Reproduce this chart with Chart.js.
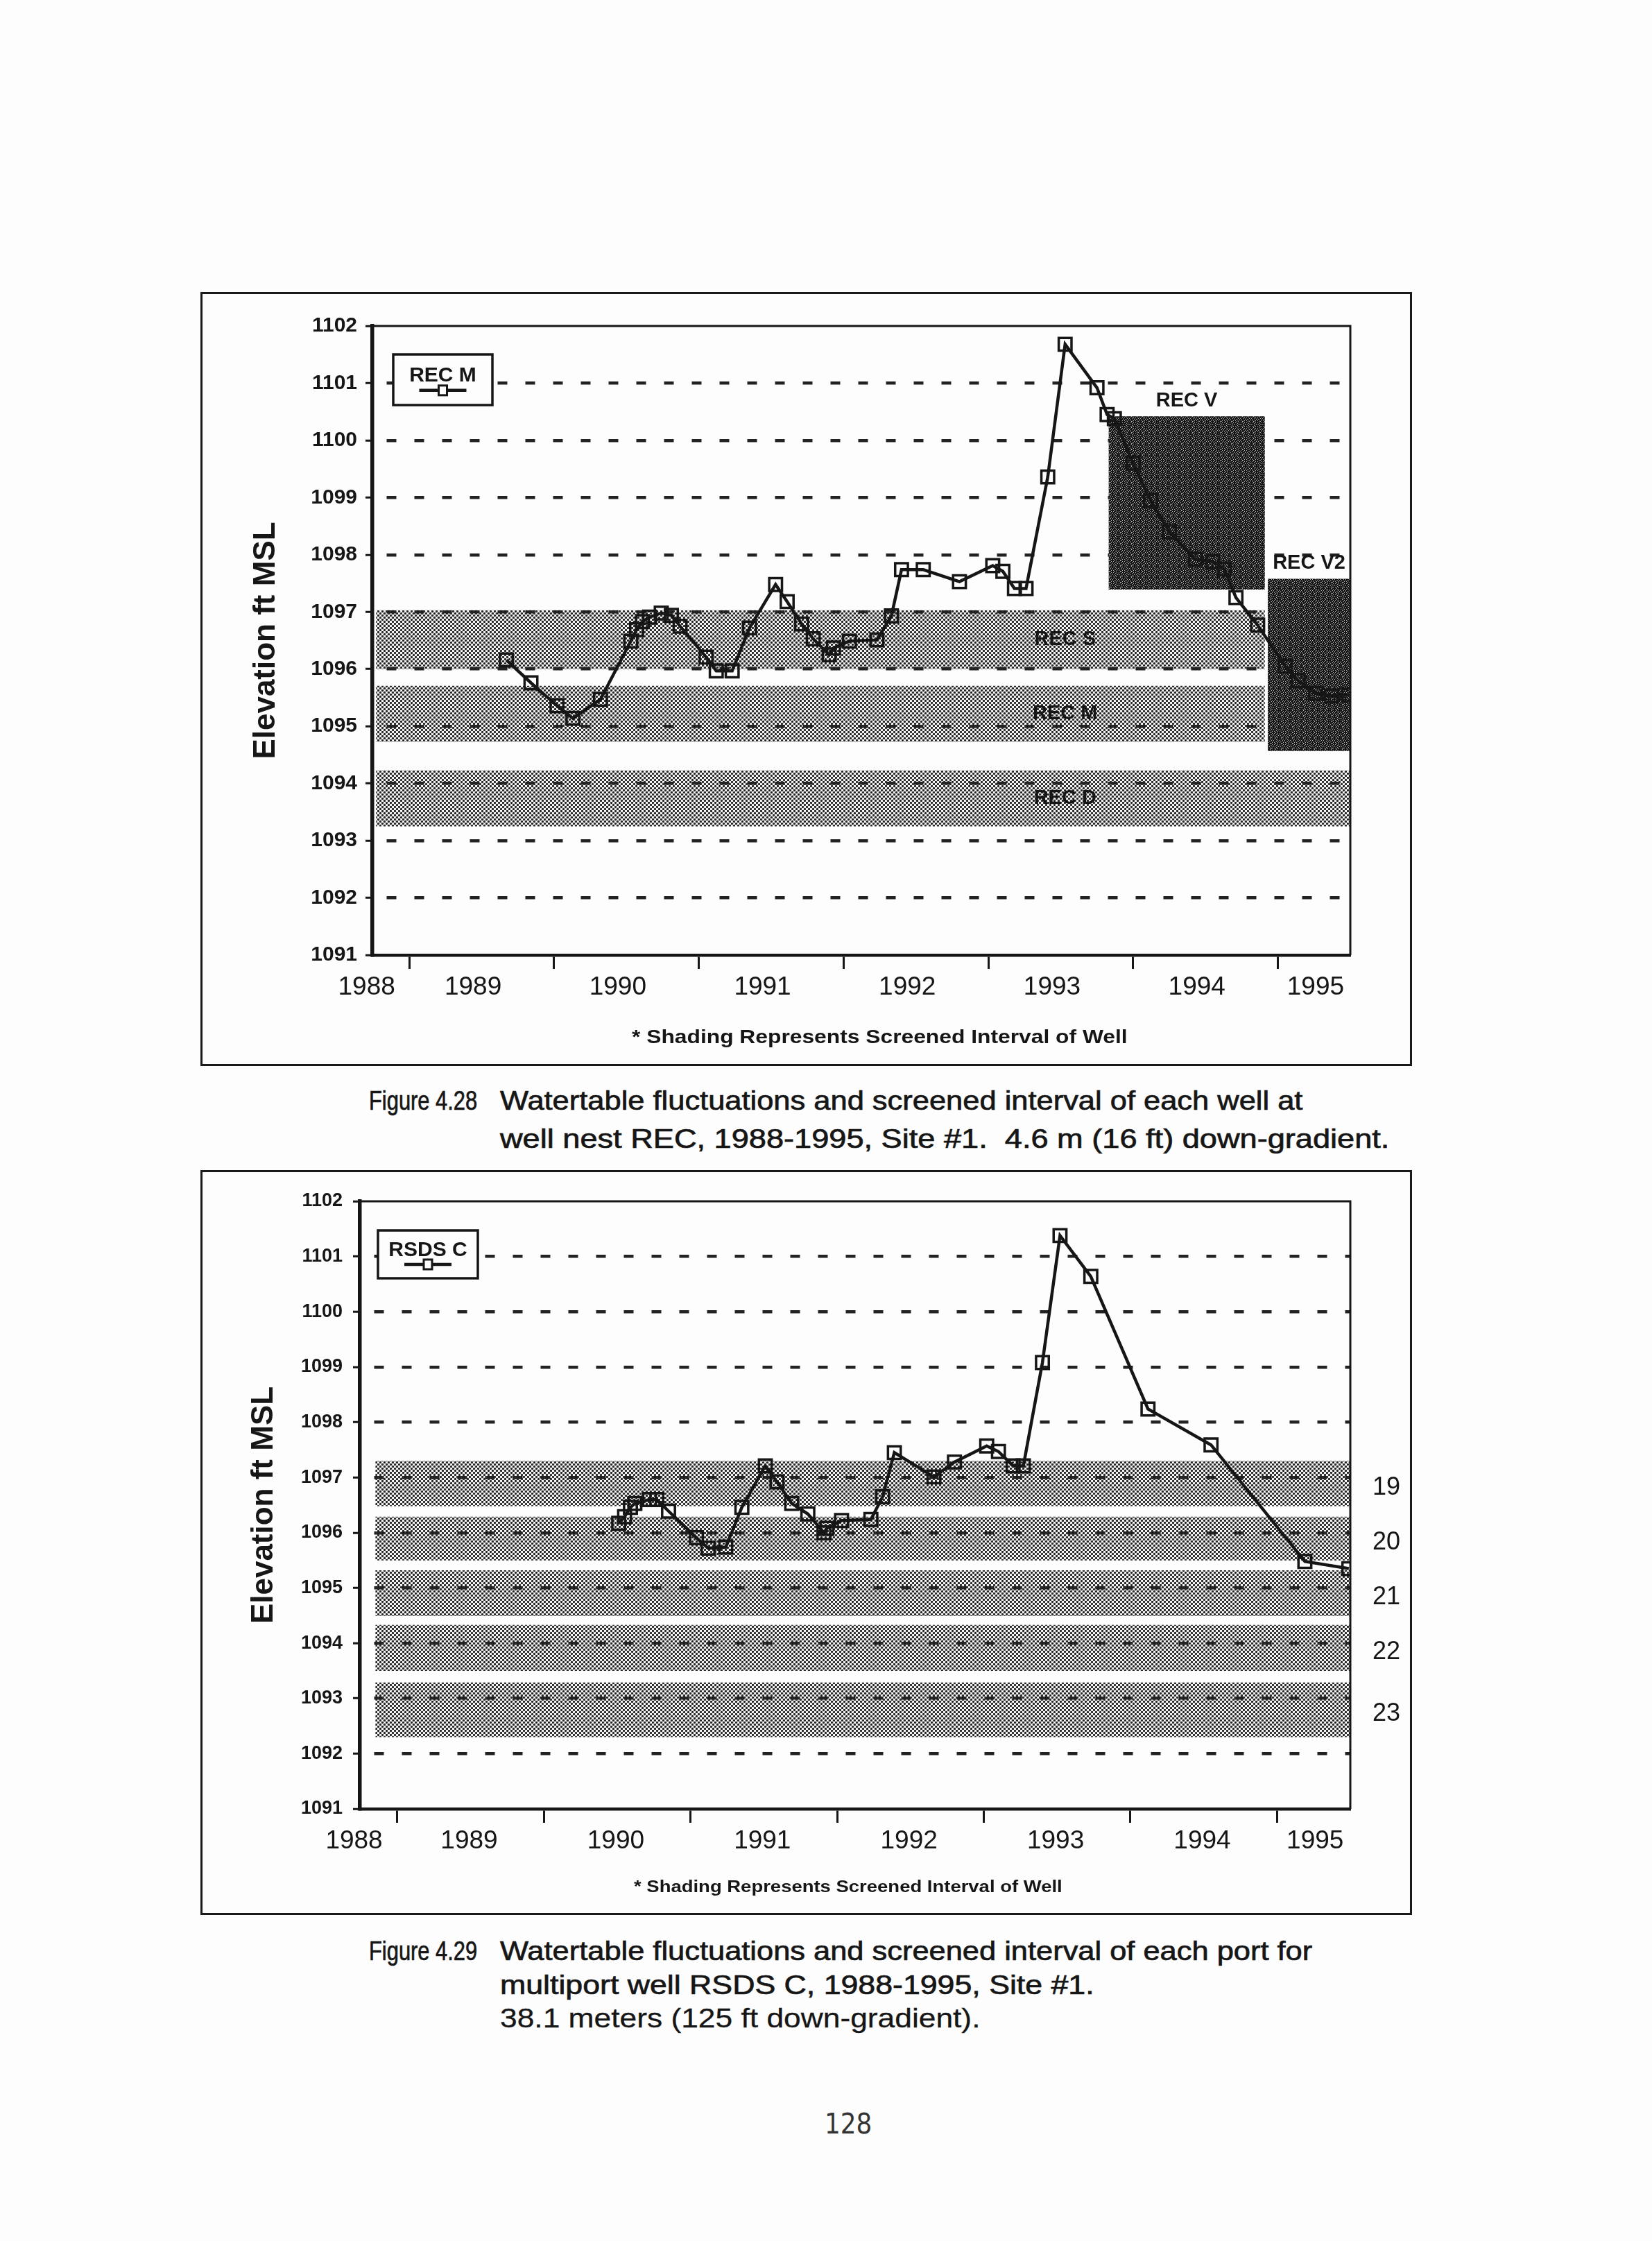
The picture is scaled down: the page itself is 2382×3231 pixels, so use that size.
<!DOCTYPE html>
<html>
<head>
<meta charset="utf-8">
<script src="https://cdn.jsdelivr.net/npm/chart.js@4.4.1/dist/chart.umd.min.js"></script>
<style>
  html, body { margin: 0; padding: 0; background: #fdfdfd; }
  body { position: relative; width: 2382px; height: 3231px; overflow: hidden;
         font-family: "Liberation Sans", Arial, sans-serif; color: #161616; }
  .frame { position: absolute; border: 3px solid #1a1a1a; box-sizing: border-box; }
  canvas { position: absolute; }
  .t { position: absolute; white-space: nowrap; line-height: 1; transform-origin: 0 50%;
       transform: translateY(-50%); }
  .note { font-weight: bold; }
  .cap { font-size: 38px; -webkit-text-stroke: 0.7px #161616; }
</style>
</head>
<body>

<div class="frame" style="left:289px;top:421px;width:1747px;height:1116px"></div>
<canvas id="recChart" width="1741" height="1110" style="left:292px;top:424px"></canvas>
<div class="t note" data-w="715" style="left:911px;top:1495px;font-size:28px">* Shading Represents Screened Interval of Well</div>

<div class="t cap" data-w="156" style="left:532px;top:1587px">Figure 4.28</div>
<div class="t cap" data-w="1158" style="left:721px;top:1587px">Watertable fluctuations and screened interval of each well at</div>
<div class="t cap" data-w="1282" style="left:721px;top:1642px">well nest REC, 1988-1995, Site #1.&nbsp; 4.6 m (16 ft) down-gradient.</div>

<div class="frame" style="left:289px;top:1687px;width:1747px;height:1074px"></div>
<canvas id="rsdsChart" width="1741" height="1068" style="left:292px;top:1690px"></canvas>
<div class="t note" data-w="618" style="left:914px;top:2720px;font-size:24px">* Shading Represents Screened Interval of Well</div>

<div class="t cap" data-w="156" style="left:532px;top:2813px">Figure 4.29</div>
<div class="t cap" data-w="1171" style="left:721px;top:2813px">Watertable fluctuations and screened interval of each port for</div>
<div class="t cap" data-w="857" style="left:721px;top:2862px">multiport well RSDS C, 1988-1995, Site #1.</div>
<div class="t cap" data-w="693" style="left:721px;top:2910px;-webkit-text-stroke:0.3px #161616">38.1 meters (125 ft down-gradient).</div>

<div class="t" data-w="68" style="left:1189px;top:3062px;font-size:40px;font-family:'DejaVu Sans',sans-serif;color:#333">128</div>

<script>
// ---- axis ranges / ticks ----
const xMin = 1988.745;
const xMax = 1995.5;
const yMin = 1091;
const yMax = 1102;
const yearTicks = [1989, 1990, 1991, 1992, 1993, 1994, 1995];
const yearLabels = ['1988', '1989', '1990', '1991', '1992', '1993', '1994', '1995'];

// ---- Figure 4.28 : REC M water table ----
const recmYears = [1989.67, 1989.84, 1990.02, 1990.13, 1990.32, 1990.53, 1990.57, 1990.61, 1990.66, 1990.74,
  1990.81, 1990.87, 1991.05, 1991.12, 1991.23, 1991.35, 1991.53, 1991.61, 1991.71, 1991.79,
  1991.90, 1991.93, 1992.04, 1992.23, 1992.33, 1992.40, 1992.55, 1992.80, 1993.03, 1993.10,
  1993.18, 1993.26, 1993.41, 1993.53, 1993.75, 1993.82, 1993.87, 1994.00, 1994.12, 1994.25,
  1994.43, 1994.55, 1994.63, 1994.71, 1994.86, 1995.05, 1995.14, 1995.26, 1995.37, 1995.49];
const recmElev = [1096.16, 1095.76, 1095.36, 1095.14, 1095.47, 1096.49, 1096.69, 1096.83, 1096.91, 1096.98,
  1096.94, 1096.75, 1096.21, 1095.97, 1095.97, 1096.72, 1097.48, 1097.18, 1096.79, 1096.53,
  1096.25, 1096.37, 1096.49, 1096.51, 1096.93, 1097.74, 1097.74, 1097.53, 1097.81, 1097.71,
  1097.41, 1097.41, 1099.36, 1101.68, 1100.92, 1100.45, 1100.38, 1099.60, 1098.95, 1098.40,
  1097.92, 1097.88, 1097.75, 1097.25, 1096.77, 1096.05, 1095.80, 1095.58, 1095.53, 1095.55];

// screened intervals of the REC wells
const recNames  = ['REC S', 'REC M', 'REC D', 'REC V', 'REC V2'];
const recFrom   = [1988.77, 1988.77, 1988.77, 1993.83, 1994.93];
const recTo     = [1994.91, 1994.91, 1995.5, 1994.91, 1995.5];
const recTop    = [1097.03, 1095.71, 1094.23, 1100.42, 1097.58];
const recBottom = [1096.00, 1094.73, 1093.25, 1097.39, 1094.57];
const recShade  = ['screen', 'screen', 'screen', 'dark', 'dark'];

// ---- Figure 4.29 : RSDS C water table ----
const rsdsYears = [1990.51, 1990.55, 1990.59, 1990.62, 1990.72, 1990.77, 1990.85, 1991.04, 1991.12, 1991.24,
  1991.35, 1991.51, 1991.59, 1991.69, 1991.80, 1991.91, 1991.93, 1992.03, 1992.23, 1992.31,
  1992.39, 1992.66, 1992.80, 1993.02, 1993.10, 1993.20, 1993.27, 1993.40, 1993.52, 1993.73,
  1994.12, 1994.55, 1995.19, 1995.49];
const rsdsElev = [1096.17, 1096.29, 1096.46, 1096.53, 1096.60, 1096.60, 1096.39, 1095.91, 1095.72, 1095.74,
  1096.46, 1097.21, 1096.92, 1096.53, 1096.34, 1096.00, 1096.08, 1096.22, 1096.24, 1096.65,
  1097.45, 1097.01, 1097.28, 1097.57, 1097.47, 1097.21, 1097.21, 1099.08, 1101.38, 1100.64,
  1098.24, 1097.59, 1095.48, 1095.35];

// screened intervals of the RSDS C ports
const portNames  = ['19', '20', '21', '22', '23'];
const portFrom   = [1988.85, 1988.85, 1988.85, 1988.85, 1988.85];
const portTo     = [1995.5, 1995.5, 1995.5, 1995.5, 1995.5];
const portTop    = [1097.30, 1096.29, 1095.32, 1094.33, 1093.29];
const portBottom = [1096.48, 1095.50, 1094.49, 1093.50, 1092.30];
const portShade  = ['screen', 'screen', 'screen', 'screen', 'screen'];

const INK = '#161616';
const PAPER = '#fdfdfd';
const FONT = '"Liberation Sans", Arial, sans-serif';

// halftone dot screen used for the screened intervals
function screenPattern() {
  const c = document.createElement('canvas');
  c.width = 6; c.height = 6;
  const g = c.getContext('2d');
  g.fillStyle = '#262626';
  [[1.5, 1.5], [4.5, 4.5]].forEach(([px, py]) => {
    g.beginPath(); g.arc(px, py, 1.7, 0, Math.PI * 2); g.fill();
  });
  return g.createPattern(c, 'repeat');
}

// coarse dark texture used for REC V / REC V2
function darkPattern() {
  const tile = ['11101111', '10111101', '11110111', '01111011',
                '11011110', '11110111', '10111101', '11101011'];
  const c = document.createElement('canvas');
  c.width = 8; c.height = 8;
  const g = c.getContext('2d');
  tile.forEach((row, r) => [...row].forEach((v, k) => {
    g.fillStyle = v === '1' ? '#141414' : '#b4b4b4';
    g.fillRect(k, r, 1, 1);
  }));
  return g.createPattern(c, 'repeat');
}

const screenFill = screenPattern();
const darkFill = darkPattern();

function bandDatasets(from, to, top, bottom, shade) {
  const sets = [];
  top.forEach((t, i) => {
    sets.push({ data: [{x: from[i], y: t}, {x: to[i], y: t}], fill: '+1',
      backgroundColor: shade[i] === 'dark' ? darkFill : screenFill,
      borderColor: 'rgba(0,0,0,0)', borderWidth: 1, pointRadius: 0 });
    sets.push({ data: [{x: from[i], y: bottom[i]}, {x: to[i], y: bottom[i]}], fill: false,
      borderColor: 'rgba(0,0,0,0)', borderWidth: 1, pointRadius: 0 });
  });
  return sets;
}

function makeDecor(cfg) {
  return {
    id: 'decor',
    afterDatasetsDraw(chart) {
      const {ctx, chartArea: a, scales: {x, y}} = chart;
      ctx.save();
      // top and right edges of the plot frame
      ctx.strokeStyle = INK;
      ctx.lineWidth = 3;
      ctx.beginPath();
      ctx.moveTo(a.left, a.top); ctx.lineTo(a.right, a.top); ctx.lineTo(a.right, a.bottom);
      ctx.stroke();

      // interval labels
      ctx.fillStyle = INK;
      ctx.textAlign = 'center';
      cfg.names.forEach((name, i) => {
        const mid = (cfg.top[i] + cfg.bottom[i]) / 2;
        if (cfg.side) {
          ctx.font = `36px ${FONT}`;
          ctx.textBaseline = 'middle';
          ctx.fillText(name, a.right + 52, y.getPixelForValue(mid - 0.08));
        } else if (cfg.shade[i] === 'dark') {
          ctx.font = `bold 29px ${FONT}`;
          ctx.textBaseline = 'bottom';
          ctx.fillText(name, x.getPixelForValue((cfg.from[i] + cfg.to[i]) / 2), y.getPixelForValue(cfg.top[i]) - 8);
        } else {
          ctx.font = `bold 29px ${FONT}`;
          ctx.textBaseline = 'middle';
          ctx.fillText(name, x.getPixelForValue(cfg.labelX), y.getPixelForValue(mid));
        }
      });

      // legend box
      const [dx, dy, w, h] = cfg.legendBox;
      const lx = a.left + dx, ly = a.top + dy, cx = lx + w / 2;
      ctx.fillStyle = PAPER;
      ctx.fillRect(lx, ly, w, h);
      ctx.lineWidth = 3.5;
      ctx.strokeRect(lx, ly, w, h);
      ctx.fillStyle = INK;
      ctx.font = `bold 30px ${FONT}`;
      ctx.textBaseline = 'middle';
      ctx.fillText(cfg.legendText, cx, ly + h * 0.42);
      const sy = ly + h * 0.71;
      ctx.lineWidth = 4.5;
      ctx.beginPath(); ctx.moveTo(cx - 34, sy); ctx.lineTo(cx + 34, sy); ctx.stroke();
      ctx.lineWidth = 3;
      ctx.fillStyle = PAPER;
      ctx.fillRect(cx - 6, sy - 7, 12, 14);
      ctx.strokeRect(cx - 6, sy - 7, 12, 14);
      ctx.restore();
    }
  };
}

function buildWellChart(canvasId, cfg) {
  const ctx = document.getElementById(canvasId);
  if (!ctx) return;
  const labelPos = yearLabels.map((lab, i) => {
    if (i === 0) return xMin - 0.04;
    if (i === yearLabels.length - 1) return (yearTicks[yearTicks.length - 1] + xMax) / 2 + 0.01;
    return Number(lab) + cfg.labelShift;
  });
  const series = {
    data: cfg.xs.map((v, i) => ({x: v, y: cfg.ys[i]})),
    borderColor: INK,
    borderWidth: 4.5,
    tension: 0,
    fill: false,
    pointStyle: 'rect',
    pointRadius: 13,
    pointBorderWidth: 3.5,
    pointBorderColor: INK,
    pointBackgroundColor: 'rgba(0,0,0,0)'
  };
  return new Chart(ctx, {
    type: 'line',
    data: { datasets: [series, ...bandDatasets(cfg.from, cfg.to, cfg.top, cfg.bottom, cfg.shade)] },
    plugins: [makeDecor(cfg)],
    options: {
      responsive: false,
      devicePixelRatio: 1,
      animation: false,
      events: [],
      layout: { padding: { left: 0, top: cfg.padTop, right: 86, bottom: 0 } },
      plugins: { legend: { display: false }, tooltip: { enabled: false } },
      scales: {
        x: {
          type: 'linear', min: xMin, max: xMax,
          afterBuildTicks: axis => {
            axis.ticks = [...yearTicks.map(v => ({value: v, text: ''})),
                          ...labelPos.map((v, i) => ({value: v, text: yearLabels[i]}))];
          },
          afterFit: axis => { axis.height = cfg.xHeight; },
          ticks: {
            autoSkip: false, maxRotation: 0, padding: 5, color: INK,
            font: { family: FONT, size: 37 },
            callback: (v, i, t) => t[i].text
          },
          grid: {
            drawOnChartArea: false, drawTicks: true, tickLength: 20, tickWidth: 3,
            tickColor: c => (c.tick && c.tick.text) ? 'rgba(0,0,0,0)' : INK
          },
          border: { display: true, color: INK, width: 4.5 }
        },
        y: {
          type: 'linear', min: yMin, max: yMax,
          afterFit: axis => { axis.width = cfg.yWidth; },
          title: {
            display: true, text: 'Elevation ft MSL', color: INK,
            font: { family: FONT, size: 44, weight: 'bold' },
            padding: { top: cfg.titlePad, bottom: 0 }
          },
          ticks: {
            stepSize: 1, padding: cfg.tickPad, color: INK,
            font: { family: FONT, size: cfg.tickSize, weight: 'bold' },
            callback: v => String(v)
          },
          grid: {
            lineWidth: 4.5, drawTicks: true, tickLength: 10, tickWidth: 3, tickColor: INK,
            color: c => (c.tick && (c.tick.value === yMin || c.tick.value === yMax)) ? 'rgba(0,0,0,0)' : '#222'
          },
          border: { display: true, color: INK, width: 5.5, dash: [14, 26], dashOffset: -18 }
        }
      }
    }
  });
}

buildWellChart('recChart', {
  xs: recmYears, ys: recmElev,
  names: recNames, from: recFrom, to: recTo, top: recTop, bottom: recBottom, shade: recShade,
  labelX: 1993.53, side: false,
  legendText: 'REC M', legendBox: [30, 41, 143, 73],
  padTop: 46, xHeight: 157, yWidth: 245, titlePad: 65, tickPad: 12, tickSize: 30, labelShift: 0.44
});

buildWellChart('rsdsChart', {
  xs: rsdsYears, ys: rsdsElev,
  names: portNames, from: portFrom, to: portTo, top: portTop, bottom: portBottom, shade: portShade,
  labelX: 0, side: true,
  legendText: 'RSDS C', legendBox: [26, 42, 144, 69],
  padTop: 42, xHeight: 150, yWidth: 227, titlePad: 62, tickPad: 15, tickSize: 27, labelShift: 0.49
});

// squeeze/stretch text lines to the widths measured on the page
document.querySelectorAll('.t[data-w]').forEach(el => {
  const s = Number(el.dataset.w) / el.scrollWidth;
  el.style.transform = `translateY(-50%) scaleX(${s})`;
});
</script>
</body>
</html>
